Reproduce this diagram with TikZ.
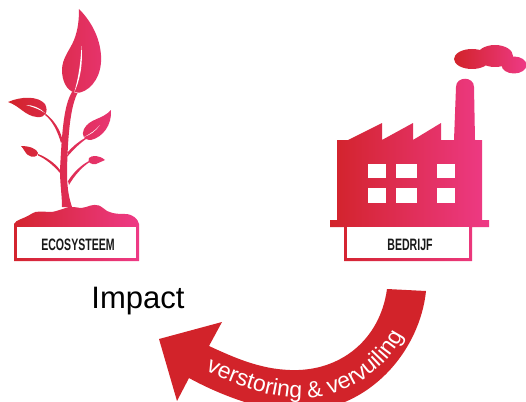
\documentclass[tikz,border=0pt]{standalone}
\usepackage{fontspec}
\setmainfont{Liberation Sans}
\newfontfamily\labelfont[FakeStretch=0.64]{Liberation Sans Bold}
\usetikzlibrary{decorations.text}
\definecolor{iconred}{HTML}{D2232A}
\definecolor{iconpink}{HTML}{EE3A86}
\tikzset{
	icon/.style={left color=iconred,right color=iconpink,shading angle=90,draw=none},
	sign/.style={font=\labelfont\fontsize{16.5}{17}\selectfont,text=black!90,inner sep=0pt},
}
\begin{document}
\begin{tikzpicture}[x=1pt,y=-1pt]
	\useasboundingbox (0,0) rectangle (526,401);
	\clip (0,0) rectangle (526,401);
	% plant
	\shade[icon] (79,9) .. controls (95,25) and (102,45) .. (101,62) .. controls (100,80) and (88,93) .. (76,93) .. controls (66,91) and (62,80) .. (62,70) .. controls (62,58) and (70,50) .. (74,40) .. controls (78,30) and (79,20) .. (79,9) -- cycle
		(72,92) .. controls (64,105) and (62,130) .. (60,170) .. controls (60,185) and (62,195) .. (62,207) -- (72,207) .. controls (68,195) and (67,185) .. (67,170) .. controls (68,130) and (71,105) .. (78,92) -- cycle
		(8,102) .. controls (22,96) and (38,96) .. (45,104) .. controls (49,112) and (45,118) .. (37,117) .. controls (25,116) and (20,106) .. (8,102) -- cycle
		(61,143) .. controls (58,132) and (52,120) .. (45,115) -- (46,114) .. controls (54,120) and (60,130) .. (62,138) -- cycle
		(111,110) .. controls (112,125) and (103,137) .. (91,140) .. controls (84,140) and (81,135) .. (84,129) .. controls (90,118) and (102,120) .. (111,110) -- cycle
		(67,153) .. controls (72,147) and (78,142) .. (85,138) -- (86,139) .. controls (79,144) and (73,150) .. (67,157) -- cycle
		(21,146) .. controls (30,146) and (37,149) .. (38,153) .. controls (38,157) and (32,158) .. (28,155) .. controls (25,153) and (24,149) .. (21,146) -- cycle
		(60,170) .. controls (55,163) and (46,157) .. (38,154) -- (38,155.5) .. controls (46,159) and (54,166) .. (60,173) -- cycle
		(105,160) .. controls (99,155) and (92,155) .. (89,158) .. controls (87,162) and (91,165) .. (96,164) .. controls (99,163) and (102,161) .. (105,160) -- cycle
		(68,181) .. controls (73,173) and (81,165) .. (89,161) -- (89,162.5) .. controls (82,167) and (74,176) .. (69,185) -- cycle
		(14,224) .. controls (15,220) and (26,218) .. (31,214) .. controls (36,210) and (45,212) .. (50,212) .. controls (57,212) and (65,207) .. (72,207) .. controls (78,207) and (80,209) .. (86,207) .. controls (92,205) and (97,203) .. (103,208) .. controls (108,213) and (115,214) .. (125,214) .. controls (133,214) and (138,219) .. (139,224) -- (139,261) -- (14,261) -- cycle;
	\fill[white] (81.5,46) .. controls (83,65) and (80,80) .. (74,93) .. controls (78,80) and (80.5,65) .. (81.5,46) -- cycle;
	\fill[white] (26,105) .. controls (33,105) and (40,108) .. (45,113) .. controls (39,109) and (33,107) .. (26,105) -- cycle;
	\fill[white] (100,125) .. controls (96,130) and (90,134) .. (84,137) .. controls (90,135) and (96,131) .. (100,125) -- cycle;
	\fill[white] (17,227) rectangle (136,258);
	\node[sign] (ecosysteem) at (78,244.5) {ECOSYSTEEM};
	% factory
	\shade[icon] (337,140) -- (348,140) -- (382,123) -- (382,140) -- (413,123) -- (413,140) -- (441,123) -- (441,140) -- (454,140) -- (456,87) .. controls (456,76) and (474,76) .. (474,87) -- (475,140) -- (482,140) -- (482,220) -- (489,220) -- (489,227) -- (472,227) -- (472,261) -- (344,261) -- (344,227) -- (330,227) -- (330,220) -- (337,220) -- cycle;
	\fill[white] (347,227) rectangle (469,258);
	\foreach \x/\w in {368/18,396/21,437/18} \foreach \y/\h in {164/14,188/15} \fill[white] (\x,\y) rectangle ++(\w,\h);
	\shade[icon] (472,59) ellipse (18 and 10) (495,56) ellipse (18 and 11) (514,65) ellipse (12.5 and 8.5);
	\node[sign] (bedrijf) at (410,244.5) {BEDRIJF};
	% arrow
	\fill[iconred] (387,289) .. controls (380,340) and (340,372) .. (290,370) .. controls (260,369) and (235,358) .. (209,346) -- (222,322) -- (159,339) -- (177,401) -- (189,378) .. controls (220,395) and (260,410) .. (295,412) .. controls (370,412) and (420,350) .. (426,291) -- cycle;
	\path[postaction={decorate},decoration={text along path,text align=center,text={|\fontsize{23}{23}\selectfont\color{white}|verstoring {\&} vervuiling}}] (187,361) .. controls (235,388) and (280,402) .. (315,397) .. controls (362,390) and (398,360) .. (411,316);
	\node[font=\fontsize{31}{31}\selectfont,inner sep=0pt] (impact) at (138,301.5) {Impact};
\end{tikzpicture}
\end{document}
